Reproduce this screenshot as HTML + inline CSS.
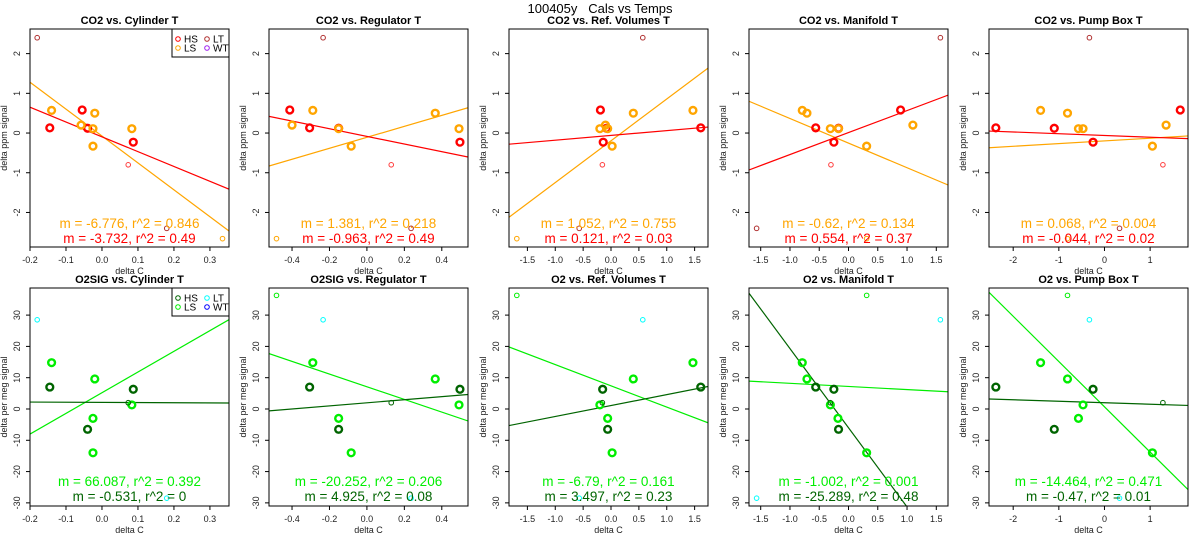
<!DOCTYPE html>
<html><head><meta charset="utf-8">
<style>
html,body{margin:0;padding:0;background:#fff;}
svg{display:block;font-family:"Liberation Sans",sans-serif;}
</style></head>
<body>
<svg id="chart" width="1200" height="550" viewBox="0 0 1200 550">
<text x="600" y="13" text-anchor="middle" font-size="13" style="white-space:pre">100405y   Cals vs Temps</text>
</svg>
<script>
// ---------- data ----------
const colTitles = ["Cylinder T","Regulator T","Ref. Volumes T","Manifold T","Pump Box T"];
const topPrefix = "CO2 vs. ";
const botPrefix = ["O2SIG vs. ","O2SIG vs. ","O2 vs. ","O2 vs. ","O2 vs. "];
const xDomains = [[-0.2,0.353],[-0.523,0.54],[-1.83,1.74],[-1.70,1.70],[-2.53,1.83]];
const xTicks = [[-0.2,-0.1,0,0.1,0.2,0.3],[-0.4,-0.2,0,0.2,0.4],[-1.5,-1,-0.5,0,0.5,1,1.5],[-1.5,-1,-0.5,0,0.5,1,1.5],[-2,-1,0,1]];
const xTickLabels = [["-0.2","-0.1","0.0","0.1","0.2","0.3"],["-0.4","-0.2","0.0","0.2","0.4"],["-1.5","-1.0","-0.5","0.0","0.5","1.0","1.5"],["-1.5","-1.0","-0.5","0.0","0.5","1.0","1.5"],["-2","-1","0","1"]];
const topYDomain = [-2.87,2.62];
const botYDomain = [-31.0,38.66];
const topYTicks = [-2,-1,0,1,2];
const botYTicks = [-30,-20,-10,0,10,20,30];

// CO2 points (shared y across columns)
const co2Y = [0.13,0.58,0.12,-0.23, 0.57,0.2,0.11,-0.33,0.5,0.11, 2.4,-0.8,-2.4,-2.66];
const co2G = ["HS","HS","HS","HS","LS","LS","LS","LS","LS","LS","lt","sr","lt","so"];
const co2X = [
 [-0.145,-0.055,-0.04,0.087, -0.14,-0.058,-0.025,-0.025,-0.02,0.083, -0.18,0.073,0.18,0.335],
 [-0.306,-0.412,-0.151,0.497, -0.289,-0.4,-0.151,-0.084,0.365,0.492, -0.234,0.13,0.236,-0.483],
 [1.61,-0.19,-0.08,-0.14, 1.47,-0.1,-0.2,0.02,0.40,-0.06, 0.57,-0.155,-0.57,-1.69],
 [-0.56,0.89,-0.17,-0.25, -0.79,1.10,-0.31,0.31,-0.71,-0.17, 1.57,-0.30,-1.57,0.31],
 [-2.38,1.66,-1.10,-0.25, -1.40,1.35,-0.57,1.05,-0.81,-0.47, -0.33,1.28,0.33,-0.81]
];
// O2 points
const o2Y = [7,-6.5,6.3, 14.8,-3,-14,9.6,1.3, 28.5,2,-28.5,36.3];
const o2G = ["HS","HS","HS","LS","LS","LS","LS","LS","cy","sd","cy","sg"];
const o2X = [
 [-0.145,-0.04,0.087, -0.14,-0.025,-0.025,-0.02,0.083, -0.18,0.073,0.18,9],
 [-0.306,-0.151,0.497, -0.289,-0.151,-0.084,0.365,0.492, -0.234,0.13,0.236,-0.483],
 [1.61,-0.06,-0.15, 1.47,-0.06,0.02,0.40,-0.2, 0.57,-0.155,-0.57,-1.69],
 [-0.56,-0.17,-0.25, -0.79,-0.18,0.31,-0.71,-0.31, 1.57,-0.31,-1.57,0.31],
 [-2.38,-1.10,-0.25, -1.40,-0.57,1.05,-0.81,-0.47, -0.33,1.28,0.33,-0.81]
];
// regression lines: slope & intercept
const co2LS_m = [-6.776,1.381,1.052,-0.62,0.068];
const co2LS_b = [-0.075,-0.108,-0.195,-0.254,-0.198];
const co2HS_m = [-3.732,-0.963,0.121,0.554,-0.044];
const co2HS_b = [-0.096,-0.084,-0.06,0.012,-0.061];
const o2LS_m = [66.087,-20.252,-6.79,-1.002,-14.464];
const o2LS_b = [5.2,7.1,7.4,7.2,0.7];
const o2HS_m = [-0.531,4.925,3.497,-25.289,-0.47];
const o2HS_b = [2.1,1.98,1.1,-6,2.0];
const co2LS_txt = ["m = -6.776, r^2 = 0.846","m = 1.381, r^2 = 0.218","m = 1.052, r^2 = 0.755","m = -0.62, r^2 = 0.134","m = 0.068, r^2 = 0.004"];
const co2HS_txt = ["m = -3.732, r^2 = 0.49","m = -0.963, r^2 = 0.49","m = 0.121, r^2 = 0.03","m = 0.554, r^2 = 0.37","m = -0.044, r^2 = 0.02"];
const o2LS_txt = ["m = 66.087, r^2 = 0.392","m = -20.252, r^2 = 0.206","m = -6.79, r^2 = 0.161","m = -1.002, r^2 = 0.001","m = -14.464, r^2 = 0.471"];
const o2HS_txt = ["m = -0.531, r^2 = 0","m = 4.925, r^2 = 0.08","m = 3.497, r^2 = 0.23","m = -25.289, r^2 = 0.48","m = -0.47, r^2 = 0.01"];

// ---------- layout ----------
const NS="http://www.w3.org/2000/svg";
const svg=document.getElementById('chart');
const lefts=[30,269,509,749,989], W=199;
const rows=[{top:29,bot:247},{top:288,bot:506}];
const RED="#FF0000",ORA="#FFA500",GRN="#00EE00",DKG="#006400",CYA="#00FFFF",BRN="#B03030";
const styles={HS:[RED,2.4,3.4],LS:[ORA,2.4,3.4],lt:[BRN,1,2.3],sr:["#FF4040",1,2.3],so:[ORA,1,2.3]};
const styles2={HS:[DKG,2.4,3.4],LS:[GRN,2.4,3.4],cy:[CYA,1,2.3],sd:[DKG,1,2.3],sg:[GRN,1,2.3]};
function mk(tag,attrs,parent){const e=document.createElementNS(NS,tag);for(const k in attrs)e.setAttribute(k,attrs[k]);(parent||svg).appendChild(e);return e;}

function panel(r,c){
  const R=rows[r], L=lefts[c];
  const xd=xDomains[c], yd=r==0?topYDomain:botYDomain;
  const sx=v=>L+(v-xd[0])/(xd[1]-xd[0])*W;
  const sy=v=>R.bot-(v-yd[0])/(yd[1]-yd[0])*(R.bot-R.top);
  const g=mk('g',{});
  
  
  const cid='clip'+r+c;
  const cp=mk('clipPath',{id:cid},g); mk('rect',{x:L,y:R.top,width:W,height:R.bot-R.top},cp);
  const t=mk('text',{x:L+W/2,y:R.top-5,'text-anchor':'middle','font-size':11,'font-weight':'bold'},g);
  t.textContent=(r==0?topPrefix:botPrefix[c])+colTitles[c];
  
  
  xTicks[c].forEach((v,i)=>{
    mk('line',{x1:sx(v),x2:sx(v),y1:R.bot,y2:R.bot+4,stroke:'#000','stroke-width':1},g);
    const tl=mk('text',{x:sx(v),y:R.bot+16,'text-anchor':'middle','font-size':9,fill:'#222'},g);
    tl.textContent=xTickLabels[c][i];
    
    
  });
  const xl=mk('text',{x:L+W/2,y:R.bot+27,'text-anchor':'middle','font-size':9,fill:'#222'},g);
  xl.textContent='delta C';
  
  
  (r==0?topYTicks:botYTicks).forEach(v=>{
    mk('line',{x1:L-4,x2:L,y1:sy(v),y2:sy(v),stroke:'#000','stroke-width':1},g);
    const tl=mk('text',{x:L-10,y:sy(v),'text-anchor':'middle','font-size':9,fill:'#222',transform:`rotate(-90 ${L-10} ${sy(v)})`},g);
    tl.textContent=String(v);
    
    
  });
  const ym=(R.top+R.bot)/2;
  const yl=mk('text',{x:L-23,y:ym,'text-anchor':'middle','font-size':9,fill:'#222',transform:`rotate(-90 ${L-23} ${ym})`},g);
  yl.textContent=r==0?'delta ppm signal':'delta per meg signal';
  
  
  const lines=r==0?[[co2LS_m,co2LS_b,ORA],[co2HS_m,co2HS_b,RED]]:[[o2LS_m,o2LS_b,GRN],[o2HS_m,o2HS_b,DKG]];
  lines.forEach(([m,b,col])=>{
    const ln=mk('line',{x1:sx(xd[0]),y1:sy(m[c]*xd[0]+b[c]),x2:sx(xd[1]),y2:sy(m[c]*xd[1]+b[c]),stroke:col,'stroke-width':1.2,'clip-path':`url(#${cid})`},g);
    
    
  });
  const X=r==0?co2X[c]:o2X[c], Y=r==0?co2Y:o2Y, G=r==0?co2G:o2G, S=r==0?styles:styles2;
  X.forEach((xv,i)=>{
    const s=S[G[i]];
    const p=mk('circle',{cx:sx(xv),cy:sy(Y[i]),r:s[2],fill:'none',stroke:s[0],'stroke-width':s[1],'clip-path':`url(#${cid})`},g);
    
    
  });
  const txts=r==0?[[co2LS_txt,ORA],[co2HS_txt,RED]]:[[o2LS_txt,GRN],[o2HS_txt,DKG]];
  const ay=r==0?[228,243]:[486,501];
  txts.forEach(([tx,col],k)=>{
    const a=mk('text',{x:L+W/2,y:ay[k],'text-anchor':'middle','font-size':13.5,fill:col},g);
    a.textContent=tx[c];
    
    
  });
  mk('rect',{x:L,y:R.top,width:W,height:R.bot-R.top,fill:'none',stroke:'#000','stroke-width':1},g);
  if(c==0){
    const lg=mk('g',{},g);
    
    
    mk('rect',{x:172,y:R.top,width:57,height:28,fill:'#fff',stroke:'#000','stroke-width':1},lg);
    const ents=r==0?[["HS",RED,178,R.top+10],["LT",BRN,207,R.top+10],["LS",ORA,178,R.top+19],["WT","#A020F0",207,R.top+19]]
                   :[["HS",DKG,178,R.top+10],["LT",CYA,207,R.top+10],["LS",GRN,178,R.top+19],["WT","#0000FF",207,R.top+19]];
    ents.forEach(([nm,col,x,y])=>{
      const eg=mk('g',{},lg);
      
      
      mk('circle',{cx:x,cy:y,r:2.3,fill:'none',stroke:col,'stroke-width':1},eg);
      const et=mk('text',{x:x+6,y:y+3.5,'font-size':10,fill:'#000'},eg);
      et.textContent=nm;
    });
  }
}
for(let r=0;r<2;r++)for(let c=0;c<5;c++)panel(r,c);
</script>
</body></html>
